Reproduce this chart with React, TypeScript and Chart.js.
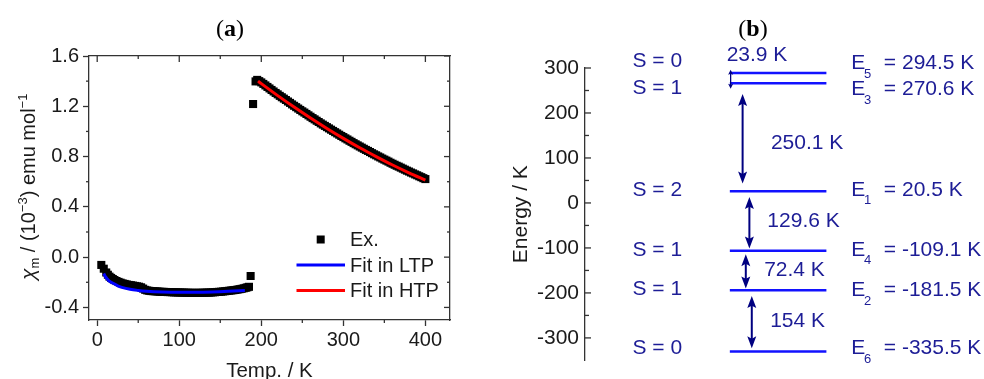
import React, { useEffect, useRef } from 'react';
import { Chart, registerables } from 'chart.js';

Chart.register(...registerables);

const SANS = '"Liberation Sans", Arial, sans-serif';
const SERIF = '"Liberation Serif", "Times New Roman", serif';
const AXIS = '#333333';
const INK = '#1a1a1a';

// ---------- Panel (a) ----------
const xTicksA = [0, 100, 200, 300, 400];
const xMinorA = [50, 150, 250, 350];
const yTicksA = [-0.4, 0, 0.4, 0.8, 1.2, 1.6];
const yMinorA = [-0.2, 0.2, 0.6, 1.0, 1.4];

// Low-temperature phase measurements
const exLowTemp = [
  5, 8, 11, 13, 15, 17, 19, 21, 23.5, 26, 28.5, 31, 33.5, 36, 38.5, 41, 43.5, 46, 48.5, 51,
  53.5, 56, 58.5, 61, 63.5, 66, 68.5, 71, 73.5, 76, 78.5, 81, 83.5, 86, 88.5, 91, 93.5, 96,
  98.5, 101, 103.5, 106, 108.5, 111, 113.5, 116, 118.5, 121, 123.5, 126, 128.5, 131, 133.5,
  136, 138.5, 141, 143.5, 146, 148.5, 151, 153.5, 156, 158.5, 161, 163.5, 166, 168.5, 171,
  173.5, 176, 178.5, 181, 183, 185, 187,
];
const exLowChi = [
  -0.062, -0.092, -0.122, -0.14, -0.155, -0.165, -0.174, -0.182, -0.19, -0.197, -0.203, -0.209,
  -0.213, -0.217, -0.221, -0.223, -0.226, -0.229, -0.232, -0.235, -0.24, -0.25, -0.26, -0.265,
  -0.268, -0.27, -0.271, -0.272, -0.273, -0.275, -0.276, -0.276, -0.277, -0.278, -0.278,
  -0.279, -0.28, -0.28, -0.281, -0.281, -0.282, -0.282, -0.283, -0.283, -0.284, -0.284,
  -0.284, -0.284, -0.284, -0.284, -0.283, -0.283, -0.282, -0.282, -0.281, -0.28, -0.279,
  -0.277, -0.276, -0.275, -0.273, -0.271, -0.269, -0.267, -0.265, -0.263, -0.261, -0.258,
  -0.255, -0.252, -0.248, -0.244, -0.24, -0.236, -0.15,
];
// High-temperature phase measurements
const exHighTemp = [
  190, 193, 195, 197.5, 200, 202.5, 205, 207.5, 210, 212.5, 215, 217.5, 220, 222.5, 225, 227.5,
  230, 232.5, 235, 237.5, 240, 242.5, 245, 247.5, 250, 252.5, 255, 257.5, 260, 262.5, 265,
  267.5, 270, 272.5, 275, 277.5, 280, 282.5, 285, 287.5, 290, 292.5, 295, 297.5, 300, 302.5,
  305, 307.5, 310, 312.5, 315, 317.5, 320, 322.5, 325, 327.5, 330, 332.5, 335, 337.5, 340,
  342.5, 345, 347.5, 350, 352.5, 355, 357.5, 360, 362.5, 365, 367.5, 370, 372.5, 375, 377.5,
  380, 382.5, 385, 387.5, 390, 392.5, 395, 397.5, 400,
];
const exHighChi = [
  1.218, 1.398, 1.41, 1.4, 1.39, 1.378, 1.366, 1.354, 1.342, 1.33, 1.318, 1.306, 1.295, 1.283,
  1.272, 1.261, 1.25, 1.238, 1.227, 1.215, 1.204, 1.193, 1.182, 1.171, 1.16, 1.15, 1.139, 1.128,
  1.117, 1.106, 1.096, 1.085, 1.075, 1.064, 1.054, 1.044, 1.034, 1.024, 1.014, 1.004, 0.994,
  0.984, 0.974, 0.964, 0.955, 0.945, 0.936, 0.926, 0.917, 0.907, 0.898, 0.889, 0.88, 0.871,
  0.862, 0.853, 0.845, 0.836, 0.827, 0.818, 0.81, 0.801, 0.793, 0.784, 0.776, 0.768, 0.76,
  0.751, 0.743, 0.735, 0.727, 0.72, 0.712, 0.704, 0.696, 0.688, 0.681, 0.673, 0.666, 0.658,
  0.651, 0.643, 0.636, 0.628, 0.621,
];
const ltpTemp = [8, 10, 12, 15, 20, 25, 30, 40, 50, 60, 80, 100, 120, 140, 160, 180];
const ltpChi = [
  -0.13, -0.155, -0.172, -0.192, -0.21, -0.228, -0.24, -0.256, -0.265, -0.271, -0.277, -0.279,
  -0.279, -0.277, -0.272, -0.265,
];
const htpTemp = [196, 200, 220, 240, 260, 280, 300, 320, 340, 360, 380, 400];
const htpChi = [1.4, 1.38, 1.285, 1.194, 1.107, 1.024, 0.945, 0.87, 0.8, 0.733, 0.671, 0.613];
const legendLabels = ['Ex.', 'Fit in LTP', 'Fit in HTP'];

// ---------- Panel (b) ----------
const yTicksB = [-300, -200, -100, 0, 100, 200, 300];
const yMinorB = [-250, -150, -50, 50, 150, 250];
const levelSub = ['5', '3', '1', '4', '2', '6'];
const levelEnergy = ['294.5', '270.6', '20.5', '-109.1', '-181.5', '-335.5'];
const levelY = [289, 266, 26, -106, -194, -330];
const levelX = [36.3, 60.5];
const spinText = ['S = 0', 'S = 1', 'S = 2', 'S = 1', 'S = 1', 'S = 0'];
const spinY = [314, 256, 29, -105, -192, -322];
const energyY = [311, 253, 29, -104, -195, -323];
const spinX = 11.9;
const energyX = [66.7, 69.9, 74.9];
const gapText = ['23.9 K', '250.1 K', '129.6 K', '72.4 K', '154 K'];
const gapX = [36.5, 39.5, 41.2, 40.3, 41.8];
const gapFrom = [296, 242, 13, -114, -207];
const gapTo = [254, 43, -101, -190, -323];
const gapTextX = [35.5, 46.6, 45.7, 44.9, 46.4];
const gapTextY = [328, 132, -40, -149, -262];

const LEVEL_BLUE = '#1212ff';
const TEXT_NAVY = '#1d1d96';
const ARROW_NAVY = '#000080';

function line(ctx: CanvasRenderingContext2D, x1: number, y1: number, x2: number, y2: number) {
  ctx.beginPath();
  ctx.moveTo(x1, y1);
  ctx.lineTo(x2, y2);
  ctx.stroke();
}

function drawTitle(ctx: CanvasRenderingContext2D, letter: string, cx: number, baseline: number) {
  ctx.save();
  ctx.fillStyle = '#000';
  ctx.textBaseline = 'alphabetic';
  ctx.textAlign = 'left';
  const reg = `24px ${SERIF}`;
  const bold = `bold 24px ${SERIF}`;
  ctx.font = reg;
  const wp = ctx.measureText('(').width;
  const wq = ctx.measureText(')').width;
  ctx.font = bold;
  const wl = ctx.measureText(letter).width;
  let x = cx - (wp + wl + wq) / 2;
  ctx.font = reg;
  ctx.fillText('(', x, baseline);
  x += wp;
  ctx.font = bold;
  ctx.fillText(letter, x, baseline);
  x += wl;
  ctx.font = reg;
  ctx.fillText(')', x, baseline);
  ctx.restore();
}

const panelAPlugin = {
  id: 'panelA',
  afterDraw(chart: any) {
    const { ctx, chartArea } = chart;
    const { left, right, top, bottom } = chartArea;
    const xs = chart.scales.x;
    const ys = chart.scales.y;
    ctx.save();
    ctx.strokeStyle = AXIS;
    ctx.lineWidth = 1.3;
    for (const v of xMinorA) {
      const p = xs.getPixelForValue(v);
      line(ctx, p, bottom, p, bottom + 3);
      line(ctx, p, top, p, top + 3);
    }
    for (const v of xTicksA) {
      const p = xs.getPixelForValue(v);
      line(ctx, p, top, p, top + 6);
    }
    for (const v of yMinorA) {
      const p = ys.getPixelForValue(v);
      line(ctx, left - 3, p, left, p);
      line(ctx, right - 3, p, right, p);
    }
    for (const v of yTicksA) {
      const p = ys.getPixelForValue(v);
      line(ctx, right - 6, p, right, p);
    }
    ctx.restore();

    // legend
    const ds = chart.data.datasets;
    const ex = ds.find((d: any) => d.label === legendLabels[0]);
    const l1 = ds.find((d: any) => d.label === legendLabels[1]);
    const l2 = ds.find((d: any) => d.label === legendLabels[2]);
    const rows = [bottom - 80.5, bottom - 55, bottom - 29.5];
    ctx.save();
    ctx.fillStyle = ex.backgroundColor;
    ctx.fillRect(right - 129.3 - 4, rows[0] - 4, 8, 8);
    ctx.lineWidth = 3;
    ctx.strokeStyle = l1.borderColor;
    line(ctx, right - 153.5, rows[1], right - 105, rows[1]);
    ctx.strokeStyle = l2.borderColor;
    line(ctx, right - 153.5, rows[2], right - 105, rows[2]);
    ctx.fillStyle = INK;
    ctx.font = `20px ${SANS}`;
    ctx.textBaseline = 'middle';
    ctx.textAlign = 'left';
    legendLabels.forEach((t, i) => ctx.fillText(t, right - 100, rows[i] + 1));
    ctx.restore();

    // y axis title
    ctx.save();
    ctx.translate(35, 280);
    ctx.rotate(-Math.PI / 2);
    ctx.fillStyle = INK;
    ctx.textAlign = 'left';
    ctx.textBaseline = 'alphabetic';
    const parts: [string, string, number][] = [
      ['\u03C7', `italic 21px ${SANS}`, 0],
      ['m', `13px ${SANS}`, 4],
      [' / (10', `20px ${SANS}`, 0],
      ['\u22123', `13px ${SANS}`, -8],
      [') emu mol', `20px ${SANS}`, 0],
      ['\u22121', `13px ${SANS}`, -8],
    ];
    let cx = 0;
    for (const [t, f, dy] of parts) {
      ctx.font = f;
      ctx.fillText(t, cx, dy);
      cx += ctx.measureText(t).width;
    }
    ctx.restore();

    drawTitle(ctx, 'a', 230, 36);
  },
};

function drawArrow(ctx: CanvasRenderingContext2D, x: number, yTop: number, yBot: number, head: number, half: number) {
  line(ctx, x, yTop + head * 0.7, x, yBot - head * 0.7);
  ctx.beginPath();
  ctx.moveTo(x, yTop);
  ctx.lineTo(x - half, yTop + head);
  ctx.lineTo(x, yTop + head * 0.8);
  ctx.lineTo(x + half, yTop + head);
  ctx.closePath();
  ctx.fill();
  ctx.beginPath();
  ctx.moveTo(x, yBot);
  ctx.lineTo(x - half, yBot - head);
  ctx.lineTo(x, yBot - head * 0.8);
  ctx.lineTo(x + half, yBot - head);
  ctx.closePath();
  ctx.fill();
}

const panelBPlugin = {
  id: 'panelB',
  afterDraw(chart: any) {
    const { ctx, chartArea } = chart;
    const { left } = chartArea;
    const xs = chart.scales.x;
    const ys = chart.scales.y;
    const X = (v: number) => xs.getPixelForValue(v);
    const Y = (v: number) => ys.getPixelForValue(v);
    ctx.save();
    ctx.strokeStyle = AXIS;
    ctx.lineWidth = 1.3;
    for (const v of yTicksB) line(ctx, left, Y(v), left + 6, Y(v));
    for (const v of yMinorB) line(ctx, left, Y(v), left + 4, Y(v));
    ctx.restore();

    // arrows
    ctx.save();
    ctx.strokeStyle = ARROW_NAVY;
    ctx.fillStyle = ARROW_NAVY;
    gapX.forEach((gx, i) => {
      const small = i === 0;
      ctx.lineWidth = small ? 1.3 : 2;
      drawArrow(ctx, X(gx), Y(gapFrom[i]), Y(gapTo[i]), small ? 5 : 12, small ? 2.5 : 4.5);
    });
    ctx.restore();

    // texts
    ctx.save();
    ctx.fillStyle = TEXT_NAVY;
    ctx.textBaseline = 'middle';
    ctx.textAlign = 'left';
    const big = `21px ${SANS}`;
    const sub = `13px ${SANS}`;
    spinText.forEach((t, i) => {
      ctx.font = big;
      ctx.fillText(t, X(spinX), Y(spinY[i]));
      const ey = Y(energyY[i]);
      ctx.fillText('E', X(energyX[0]), ey);
      ctx.font = sub;
      ctx.fillText(levelSub[i], X(energyX[1]), ey + 11);
      ctx.font = big;
      ctx.fillText('= ' + levelEnergy[i] + ' K', X(energyX[2]), ey);
    });
    gapText.forEach((t, i) => {
      ctx.font = big;
      ctx.fillText(t, X(gapTextX[i]), Y(gapTextY[i]));
    });
    ctx.restore();

    drawTitle(ctx, 'b', 283, 36);
  },
};

const tickFontA = { family: SANS, size: 20 };
const tickFontB = { family: SANS, size: 21 };

export default function App() {
  const refA = useRef<HTMLCanvasElement>(null);
  const refB = useRef<HTMLCanvasElement>(null);

  useEffect(() => {
    const exPoints = [
      ...exLowTemp.map((t, i) => ({ x: t, y: exLowChi[i] })),
      ...exHighTemp.map((t, i) => ({ x: t, y: exHighChi[i] })),
    ];
    const chartA = new Chart(refA.current as HTMLCanvasElement, {
      type: 'scatter',
      data: {
        datasets: [
          {
            label: legendLabels[1],
            data: ltpTemp.map((t, i) => ({ x: t, y: ltpChi[i] })),
            showLine: true,
            borderColor: '#0000ff',
            borderWidth: 3,
            pointRadius: 0,
            cubicInterpolationMode: 'monotone',
            order: 1,
          },
          {
            label: legendLabels[2],
            data: htpTemp.map((t, i) => ({ x: t, y: htpChi[i] })),
            showLine: true,
            borderColor: '#ff0000',
            borderWidth: 3,
            pointRadius: 0,
            cubicInterpolationMode: 'monotone',
            order: 0,
          },
          {
            label: legendLabels[0],
            data: exPoints,
            showLine: false,
            pointStyle: 'rect',
            pointRadius: 5.7,
            pointBorderWidth: 0,
            backgroundColor: '#000000',
            borderColor: '#000000',
            order: 2,
          },
        ],
      } as any,
      options: {
        responsive: false,
        animation: false,
        layout: { padding: { top: 56, right: 20, bottom: 0, left: 0 } },
        plugins: { legend: { display: false }, tooltip: { enabled: false } },
        scales: {
          x: {
            type: 'linear',
            position: 'bottom',
            min: -10,
            max: 430,
            afterBuildTicks: (s: any) => {
              s.ticks = xTicksA.map((v) => ({ value: v }));
            },
            afterFit: (s: any) => {
              s.height = 59;
            },
            ticks: { font: tickFontA, color: INK, padding: 2, maxRotation: 0, autoSkip: false },
            grid: { drawOnChartArea: false, drawTicks: true, tickLength: 6, tickColor: AXIS, tickWidth: 1.3 },
            border: { display: true, color: AXIS, width: 1.3 },
            title: {
              display: true,
              text: 'Temp. / K',
              font: { family: SANS, size: 20.5 },
              color: INK,
              padding: { top: 0, bottom: -5 },
            },
          },
          y: {
            type: 'linear',
            position: 'left',
            min: -0.5,
            max: 1.6,
            afterBuildTicks: (s: any) => {
              s.ticks = yTicksA.map((v) => ({ value: v }));
            },
            afterFit: (s: any) => {
              s.width = 89;
            },
            ticks: {
              font: tickFontA,
              color: INK,
              padding: 4,
              autoSkip: false,
              callback: (v: any) => Number(v).toFixed(1),
            },
            grid: { drawOnChartArea: false, drawTicks: true, tickLength: 6, tickColor: AXIS, tickWidth: 1.3 },
            border: { display: true, color: AXIS, width: 1.3 },
          },
          x2: {
            type: 'linear',
            axis: 'x',
            position: 'top',
            min: -10,
            max: 430,
            ticks: { display: false },
            grid: { drawOnChartArea: false, drawTicks: false },
            border: { display: true, color: AXIS, width: 1.3 },
            afterFit: (s: any) => {
              s.height = 0;
            },
          },
          y2: {
            type: 'linear',
            axis: 'y',
            position: 'right',
            min: -0.5,
            max: 1.6,
            ticks: { display: false },
            grid: { drawOnChartArea: false, drawTicks: false },
            border: { display: true, color: AXIS, width: 1.3 },
            afterFit: (s: any) => {
              s.width = 0;
            },
          },
        } as any,
      },
      plugins: [panelAPlugin],
    });

    const chartB = new Chart(refB.current as HTMLCanvasElement, {
      type: 'scatter',
      data: {
        datasets: levelY.map((e, i) => ({
          label: 'E' + levelSub[i],
          data: [
            { x: levelX[0], y: e },
            { x: levelX[1], y: e },
          ],
          showLine: true,
          borderColor: LEVEL_BLUE,
          borderWidth: 2.5,
          pointRadius: 0,
        })),
      } as any,
      options: {
        responsive: false,
        animation: false,
        layout: { padding: { top: 68, right: 0, bottom: 3, left: 0 } },
        plugins: { legend: { display: false }, tooltip: { enabled: false } },
        scales: {
          x: { type: 'linear', min: 0, max: 100, display: false },
          y: {
            type: 'linear',
            min: -350,
            max: 300,
            afterBuildTicks: (s: any) => {
              s.ticks = yTicksB.map((v) => ({ value: v }));
            },
            afterFit: (s: any) => {
              s.width = 115;
            },
            ticks: { font: tickFontB, color: INK, padding: 6, autoSkip: false },
            grid: { drawOnChartArea: false, drawTicks: false },
            border: { display: true, color: AXIS, width: 1.3 },
            title: {
              display: true,
              text: 'Energy / K',
              font: { family: SANS, size: 21 },
              color: INK,
              padding: { top: 39, bottom: 0 },
            },
          },
        } as any,
      },
      plugins: [panelBPlugin],
    });

    return () => {
      chartA.destroy();
      chartB.destroy();
    };
  }, []);

  return (
    <div style={{ position: 'fixed', left: 0, top: 0, width: 984, height: 379, background: '#fff', overflow: 'hidden' }}>
      <canvas ref={refA} width={470} height={379} style={{ position: 'absolute', left: 0, top: 0 }} />
      <canvas ref={refB} width={514} height={379} style={{ position: 'absolute', left: 470, top: 0 }} />
    </div>
  );
}
